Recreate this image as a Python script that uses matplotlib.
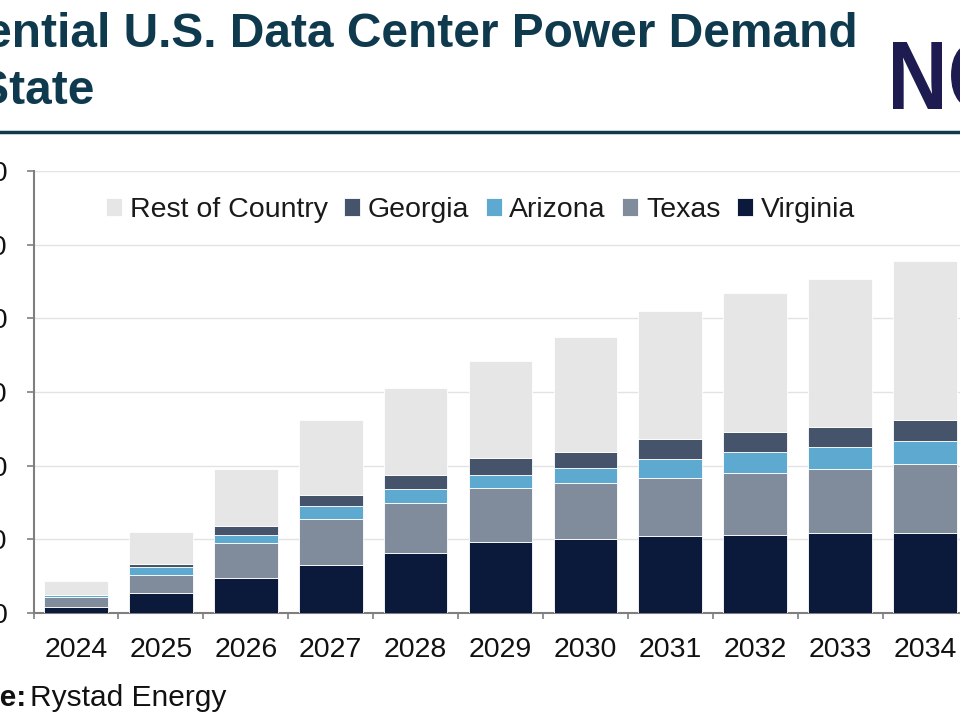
import matplotlib
matplotlib.use("Agg")
import matplotlib.pyplot as plt
import numpy as np
from matplotlib.textpath import TextPath
from matplotlib.font_manager import FontProperties
from matplotlib.patches import PathPatch
from matplotlib.transforms import Affine2D

plt.rcParams['font.family'] = ['Liberation Sans', 'DejaVu Sans']

years = ["2024", "2025", "2026", "2027", "2028", "2029", "2030", "2031", "2032", "2033", "2034"]
virginia = [8, 27, 48, 65, 82, 97, 101, 105, 106, 108, 109]
texas = [14, 25, 47, 62, 68, 73, 76, 78, 84, 87, 93]
arizona = [2, 11, 11, 18, 18, 18, 20, 26, 29, 30, 32]
georgia = [1, 4, 12, 15, 20, 22, 22, 27, 27, 28, 28]
rest_of_country = [18, 43, 78, 102, 117, 132, 155, 174, 188, 201, 216]

series = [("Virginia", virginia, "#0b1a3b"),
          ("Texas", texas, "#808c9c"),
          ("Arizona", arizona, "#5ea9d0"),
          ("Georgia", georgia, "#45546b"),
          ("Rest of Country", rest_of_country, "#e6e6e6")]

W, H = 960, 720
fig = plt.figure(figsize=(9.6, 7.2), dpi=100)

ax = fig.add_axes([33.5 / W, 107 / H, 934 / W, 442 / H])
x = np.arange(len(years))
bottom = np.zeros(len(years))
handles = {}
for name, vals, col in series:
    b = ax.bar(x, vals, width=0.75, bottom=bottom, color=col, edgecolor="white",
               linewidth=0.6, label=name, zorder=3)
    handles[name] = b
    bottom += np.array(vals)

ax.set_xlim(-0.5, len(years) - 0.5)
ax.set_ylim(0, 600)
ax.set_yticks(np.arange(0, 601, 100))
ax.set_yticklabels([str(v) for v in range(0, 601, 100)])
ax.yaxis.grid(True, color="#e3e3e3", linewidth=1.0, zorder=0)
ax.set_axisbelow(True)

ax.set_xticks(x)
ax.set_xticklabels(years)
ax.set_xticks(np.arange(-0.5, len(years), 1.0), minor=True)
ax.tick_params(axis="x", which="major", length=0, pad=17, labelsize=20.5, labelcolor="#111111")
ax.tick_params(axis="x", which="minor", length=4, width=1.2, color="#7f7f7f", direction="out")
ax.tick_params(axis="y", which="major", length=5, width=1.2, color="#7f7f7f", pad=13.5,
               labelsize=20.5, labelcolor="#111111")

for s in ["top", "right"]:
    ax.spines[s].set_visible(False)
for s in ["left", "bottom"]:
    ax.spines[s].set_color("#7f7f7f")
    ax.spines[s].set_linewidth(1.5)

order = ["Rest of Country", "Georgia", "Arizona", "Texas", "Virginia"]
leg = fig.legend([handles[n] for n in order], order, ncol=5, frameon=False,
                 loc="center left", bbox_to_anchor=(106 / W, 1 - 210 / H),
                 fontsize=20.5, handlelength=0.56, handleheight=0.56,
                 handletextpad=0.27, columnspacing=0.58, borderaxespad=0, borderpad=0)
for t in leg.get_texts():
    t.set_color("#1a1a1a")

# Title (cropped at left edge as in the reference)
title_color = "#0f3a4e"
t1 = fig.text(858 / W, 1 - 46.7 / H, "Potential U.S. Data Center Power Demand",
              fontsize=34.5, fontweight="bold", color=title_color, ha="right", va="baseline")
fig.canvas.draw()
bb = t1.get_window_extent()
fig.text(bb.x0 / W, 1 - 104 / H, "by State",
         fontsize=34.5, fontweight="bold", color=title_color, ha="left", va="baseline")

# logo (cropped at right edge)
fp = FontProperties(family="Liberation Sans", weight="bold")
tpN = TextPath((0, 0), "N", size=1, prop=fp)
extN = tpN.get_extents()
sx = 49 / extN.width
sy = 67 / extN.height
logo = TextPath((0, 0), "NGI", size=1, prop=fp)
tr = (Affine2D().scale(sx, sy).translate(893 - extN.x0 * sx, (H - 109) - extN.y0 * sy)
      .scale(1 / W, 1 / H) + fig.transFigure)
fig.add_artist(PathPatch(logo, transform=tr, facecolor="#1d1b4f", edgecolor="none"))

# rule under title
fig.add_artist(plt.Line2D([0, 1], [1 - 131.5 / H, 1 - 131.5 / H], transform=fig.transFigure,
                          color=title_color, linewidth=2.5))

# source
fig.text(26 / W, 14 / H, "Source:", fontsize=21.5, fontweight="bold", color="#111111",
         ha="right", va="baseline")
fig.text(30 / W, 14 / H, "Rystad Energy", fontsize=21.5, color="#111111",
         ha="left", va="baseline")

fig.savefig("out.png", dpi=100)
